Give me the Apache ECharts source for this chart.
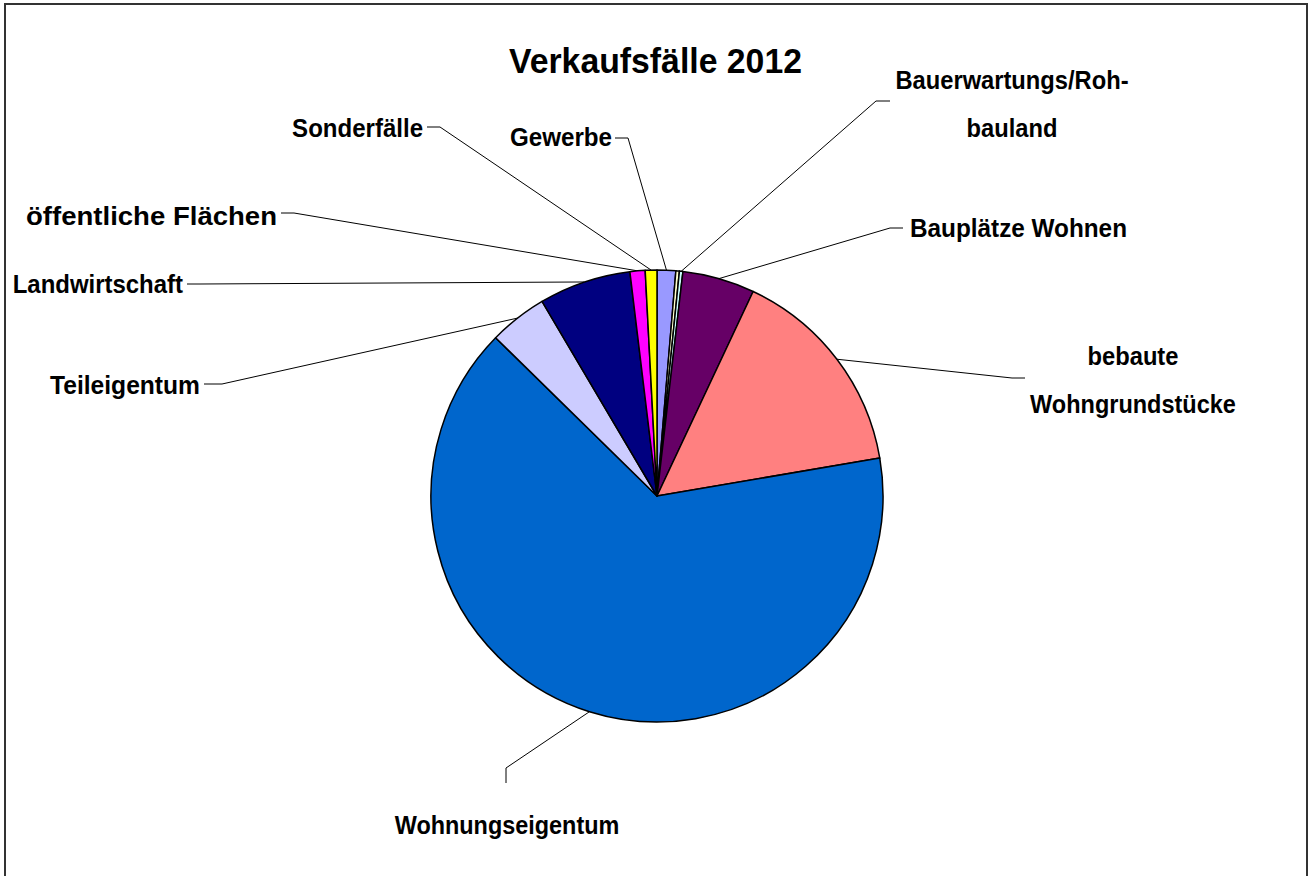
<!DOCTYPE html>
<html>
<head>
<meta charset="utf-8">
<script src="https://cdn.jsdelivr.net/npm/echarts@6/dist/echarts.min.js"></script>
<style>
  html, body { margin: 0; padding: 0; background: #fff; }
  #chart { width: 1311px; height: 876px; }
</style>
</head>
<body>
<div id="chart"></div>
<script>
// ---- data ----
const titleText = 'Verkaufsfälle 2012';
const categories = ['Gewerbe', '', 'Bauerwartungs/Rohbauland', 'Bauplätze Wohnen', 'bebaute Wohngrundstücke', 'Wohnungseigentum', 'Teileigentum', 'Landwirtschaft', 'öffentliche Flächen', 'Sonderfälle'];
const values = [16, 3, 3, 62, 184, 781, 50, 79, 13, 10];
const labelTexts = ['Gewerbe', '', 'Bauerwartungs/Roh-\nbauland', 'Bauplätze Wohnen', 'bebaute\nWohngrundstücke', 'Wohnungseigentum', 'Teileigentum', 'Landwirtschaft', 'öffentliche Flächen', 'Sonderfälle'];
const colors = ['#9999FF', '#FFFFCC', '#CCFFFF', '#660066', '#FF8080', '#0066CC', '#CCCCFF', '#000080', '#FF00FF', '#FFFF00'];

// ---- label placement (layout only) ----
const labelSpots = [
  { x: 612, y: 137, align: 'right', elbow: [628, 138], end: [615, 138] },
  null,
  { x: 1012, y: 104, align: 'center', elbow: [876, 101], end: [890, 101] },
  { x: 910, y: 228, align: 'left', elbow: [890, 228], end: [903, 228] },
  { x: 1133, y: 380, align: 'center', elbow: [1012, 378], end: [1025, 378] },
  { x: 507, y: 825, align: 'center', elbow: [506, 768], end: [506, 783] },
  { x: 200, y: 385, align: 'right', elbow: [222, 384], end: [204, 384] },
  { x: 183, y: 284, align: 'right', elbow: [200, 284], end: [187, 284] },
  { x: 277, y: 216, align: 'right', elbow: [294, 213], end: [281, 213] },
  { x: 423, y: 128, align: 'right', elbow: [440, 127], end: [427, 127] }
];
// rendered widths of a few texts as they appear in the reference (styling only)
const textWidthFit = { 'öffentliche Flächen': 251, 'Gewerbe': 102, 'Teileigentum': 150, 'Bauplätze Wohnen': 217 };

const FONT = "'Liberation Sans', Arial, sans-serif";
const NARROW = 0.82;      // Arial Narrow ≈ Arial compressed horizontally
const TRACKING = 0.07;    // extra spacing per character, in em

const chart = echarts.init(document.getElementById('chart'), null, { renderer: 'svg' });

const pieData = categories.map((name, i) => {
  const item = { name: name, value: values[i], itemStyle: { color: colors[i] } };
  if (!labelTexts[i]) {
    item.label = { show: false };
    item.labelLine = { show: false };
  }
  return item;
});

chart.setOption({
  animation: false,
  backgroundColor: '#fff',
  title: {
    text: titleText,
    left: 'center',
    top: 38,
    textStyle: { fontFamily: FONT, fontSize: 35, fontWeight: 'bold', color: '#000' }
  },
  graphic: [{
    type: 'rect',
    silent: true,
    shape: { x: 5, y: 4, width: 1302, height: 880 },
    style: { fill: 'none', stroke: '#333', lineWidth: 2 }
  }],
  series: [{
    type: 'pie',
    center: [657, 496],
    radius: 226,
    startAngle: 90,
    clockwise: true,
    avoidLabelOverlap: false,
    data: pieData,
    itemStyle: { borderColor: '#000', borderWidth: 1.5 },
    label: {
      show: true,
      position: 'outside',
      formatter: p => labelTexts[p.dataIndex],
      fontFamily: FONT,
      fontSize: 25,
      fontWeight: 'bold',
      color: '#000',
      lineHeight: 48
    },
    labelLine: {
      show: true,
      smooth: false,
      length: 20,
      length2: 15,
      lineStyle: { color: '#000', width: 1 }
    },
    labelLayout: function (params) {
      const s = labelSpots[params.dataIndex];
      if (!s) return {};
      const pts = params.labelLinePoints;
      const start = pts && pts[0] ? pts[0] : s.elbow;
      return {
        x: s.x,
        y: s.y,
        align: s.align,
        verticalAlign: 'middle',
        labelLinePoints: [start, s.elbow, s.end]
      };
    }
  }]
});

// Emulate the narrow, tracked bold face of the original chart.
function condenseTexts() {
  document.querySelectorAll('#chart svg text').forEach(t => {
    const txt = t.textContent;
    if (!txt) return;
    t.removeAttribute('textLength');
    t.removeAttribute('lengthAdjust');
    const w0 = t.getComputedTextLength();
    const fs = parseFloat(getComputedStyle(t).fontSize) || 25;
    const target = textWidthFit[txt] || (w0 * NARROW + TRACKING * fs * txt.length);
    t.setAttribute('textLength', target.toFixed(1));
    t.setAttribute('lengthAdjust', 'spacingAndGlyphs');
  });
}
condenseTexts();
chart.on('finished', condenseTexts);
</script>
</body>
</html>
